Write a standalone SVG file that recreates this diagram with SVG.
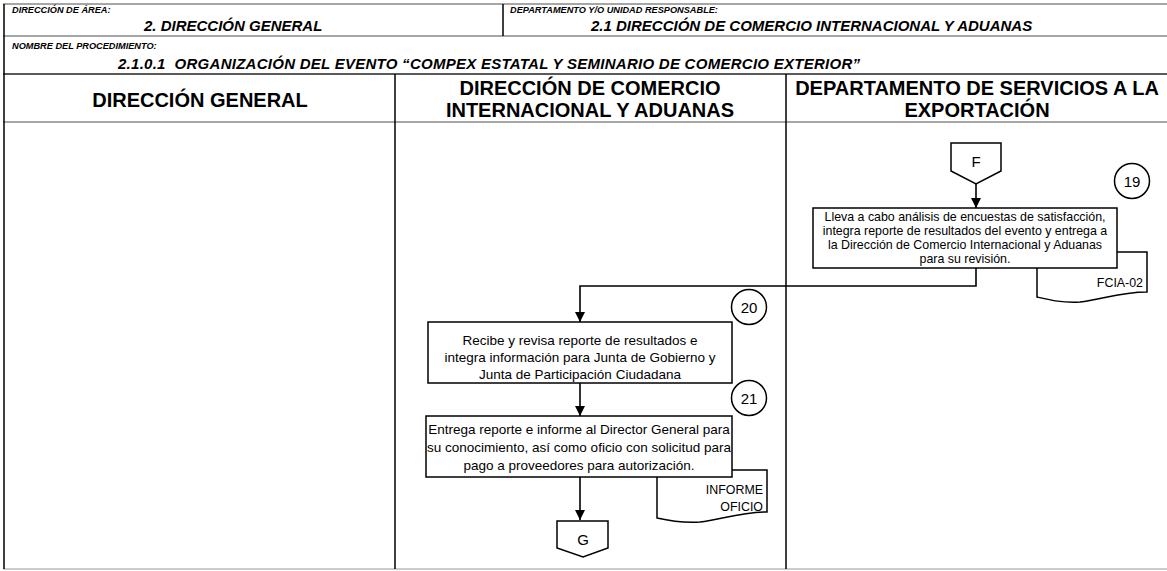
<svg xmlns="http://www.w3.org/2000/svg" width="1167" height="571" viewBox="0 0 1167 571">
<defs>
<style>
text{font-family:"Liberation Sans",Arial,sans-serif;fill:#000}
.lbl{font-size:9.2px;font-weight:bold;font-style:italic}
.hv{font-size:15px;font-weight:bold;font-style:italic}
.lane{font-size:20px;font-weight:bold}
.t{font-size:12.4px}
.t2{font-size:13.5px}
.num{font-size:15px}
.grid{stroke:#888;stroke-width:1.5;fill:none}
.blk{stroke:#000;stroke-width:1.5;fill:none}
.box{stroke:#000;stroke-width:1.5;fill:#fff}
.conn{stroke:#000;stroke-width:1.6;fill:none}
</style>
<marker id="ah" viewBox="0 0 10 10" refX="10" refY="5" markerWidth="10" markerHeight="11" markerUnits="userSpaceOnUse" orient="auto">
<path d="M0,0 L10,5 L0,10 Z" fill="#000"/>
</marker>
</defs>
<rect width="1167" height="571" fill="#fff"/>
<g id="frame">
<line class="grid" x1="3" y1="4" x2="1167" y2="4"/>
<line class="grid" x1="3" y1="36" x2="1167" y2="36"/>
<line x1="3" y1="74" x2="1167" y2="74" stroke="#222" stroke-width="1.5"/>
<line class="grid" x1="3" y1="122" x2="1167" y2="122"/>
<line x1="3" y1="569" x2="1167" y2="569" stroke="#bbb" stroke-width="1.5"/>
<line class="blk" x1="4" y1="4" x2="4" y2="569"/>
<line class="blk" x1="503" y1="4" x2="503" y2="36"/>
<line class="blk" x1="395" y1="74" x2="395" y2="569"/>
<line class="blk" x1="786" y1="74" x2="786" y2="569"/>
<text class="lbl" x="12" y="13">DIRECCIÓN DE ÁREA:</text>
<text class="hv" x="144" y="31">2. DIRECCIÓN GENERAL</text>
<text class="lbl" x="510" y="13">DEPARTAMENTO Y/O UNIDAD RESPONSABLE:</text>
<text class="hv" x="591" y="31">2.1 DIRECCIÓN DE COMERCIO INTERNACIONAL Y ADUANAS</text>
<text class="lbl" x="12" y="49">NOMBRE DEL PROCEDIMIENTO:</text>
<text class="hv" x="118" y="69" textLength="742" lengthAdjust="spacing" xml:space="preserve">2.1.0.1  ORGANIZACIÓN DEL EVENTO “COMPEX ESTATAL Y SEMINARIO DE COMERCIO EXTERIOR”</text>
<text class="lane" x="200" y="107" text-anchor="middle">DIRECCIÓN GENERAL</text>
<text class="lane" x="590" y="95" text-anchor="middle">DIRECCIÓN DE COMERCIO</text>
<text class="lane" x="590" y="117" text-anchor="middle">INTERNACIONAL Y ADUANAS</text>
<text class="lane" x="977" y="95" text-anchor="middle">DEPARTAMENTO DE SERVICIOS A LA</text>
<text class="lane" x="977" y="117" text-anchor="middle">EXPORTACIÓN</text>
</g>
<g id="connectors">
<line class="conn" x1="976" y1="184" x2="976" y2="208" marker-end="url(#ah)"/>
<polyline class="conn" points="976,268 976,286 580,286 580,322" marker-end="url(#ah)"/>
<line class="conn" x1="580" y1="383" x2="580" y2="416" marker-end="url(#ah)"/>
<line class="conn" x1="580" y1="477" x2="580" y2="520" marker-end="url(#ah)"/>
</g>
<g id="connF">
<path class="box" d="M951,143 H1001 V171 L976,184 L951,171 Z"/>
<text class="num" x="976" y="167" text-anchor="middle">F</text>
</g>
<g id="doc19">
<path class="box" d="M1037,252 H1147 V292 C1120,292 1100,300 1080,302 C1062,303 1050,300 1037,297 Z"/>
<text class="t" x="1143" y="287" text-anchor="end">FCIA-02</text>
</g>
<g id="step19">
<rect class="box" x="813" y="208" width="304" height="60"/>
<text class="t" x="965" y="221" text-anchor="middle">Lleva a cabo análisis de encuestas de satisfacción,</text>
<text class="t" x="965" y="235" text-anchor="middle">integra reporte de resultados del evento y entrega a</text>
<text class="t" x="965" y="249" text-anchor="middle">la Dirección de Comercio Internacional y Aduanas</text>
<text class="t" x="965" y="263" text-anchor="middle">para su revisión.</text>
</g>
<g id="num19">
<circle class="box" cx="1132" cy="181" r="17.5"/>
<text class="num" x="1132" y="186.5" text-anchor="middle">19</text>
</g>
<g id="step20">
<rect class="box" x="428" y="322" width="304" height="61"/>
<text class="t2" x="580" y="345" text-anchor="middle">Recibe y revisa reporte de resultados e</text>
<text class="t2" x="580" y="362" text-anchor="middle">integra información para Junta de Gobierno y</text>
<text class="t2" x="580" y="379" text-anchor="middle">Junta de Participación Ciudadana</text>
</g>
<g id="num20">
<circle class="box" cx="749" cy="307" r="17.5"/>
<text class="num" x="749" y="312.5" text-anchor="middle">20</text>
</g>
<g id="num21">
<circle class="box" cx="749" cy="398" r="17.5"/>
<text class="num" x="749" y="403.5" text-anchor="middle">21</text>
</g>
<g id="doc21">
<path class="box" d="M657,470 H767 V512 C740,512 720,520 700,522 C682,523 670,521 657,518 Z"/>
<text class="t" x="763" y="494" text-anchor="end">INFORME</text>
<text class="t" x="763" y="511" text-anchor="end">OFICIO</text>
</g>
<g id="step21">
<rect class="box" x="426" y="416" width="306" height="61"/>
<text class="t2" x="579" y="434" text-anchor="middle">Entrega reporte e informe al Director General para</text>
<text class="t2" x="579" y="452" text-anchor="middle">su conocimiento, así como oficio con solicitud para</text>
<text class="t2" x="579" y="470" text-anchor="middle">pago a proveedores para autorización.</text>
</g>
<g id="connG">
<path class="box" d="M557,521 H608 V548 L583,557 L557,548 Z"/>
<text class="num" x="583" y="545" text-anchor="middle">G</text>
</g>
</svg>
